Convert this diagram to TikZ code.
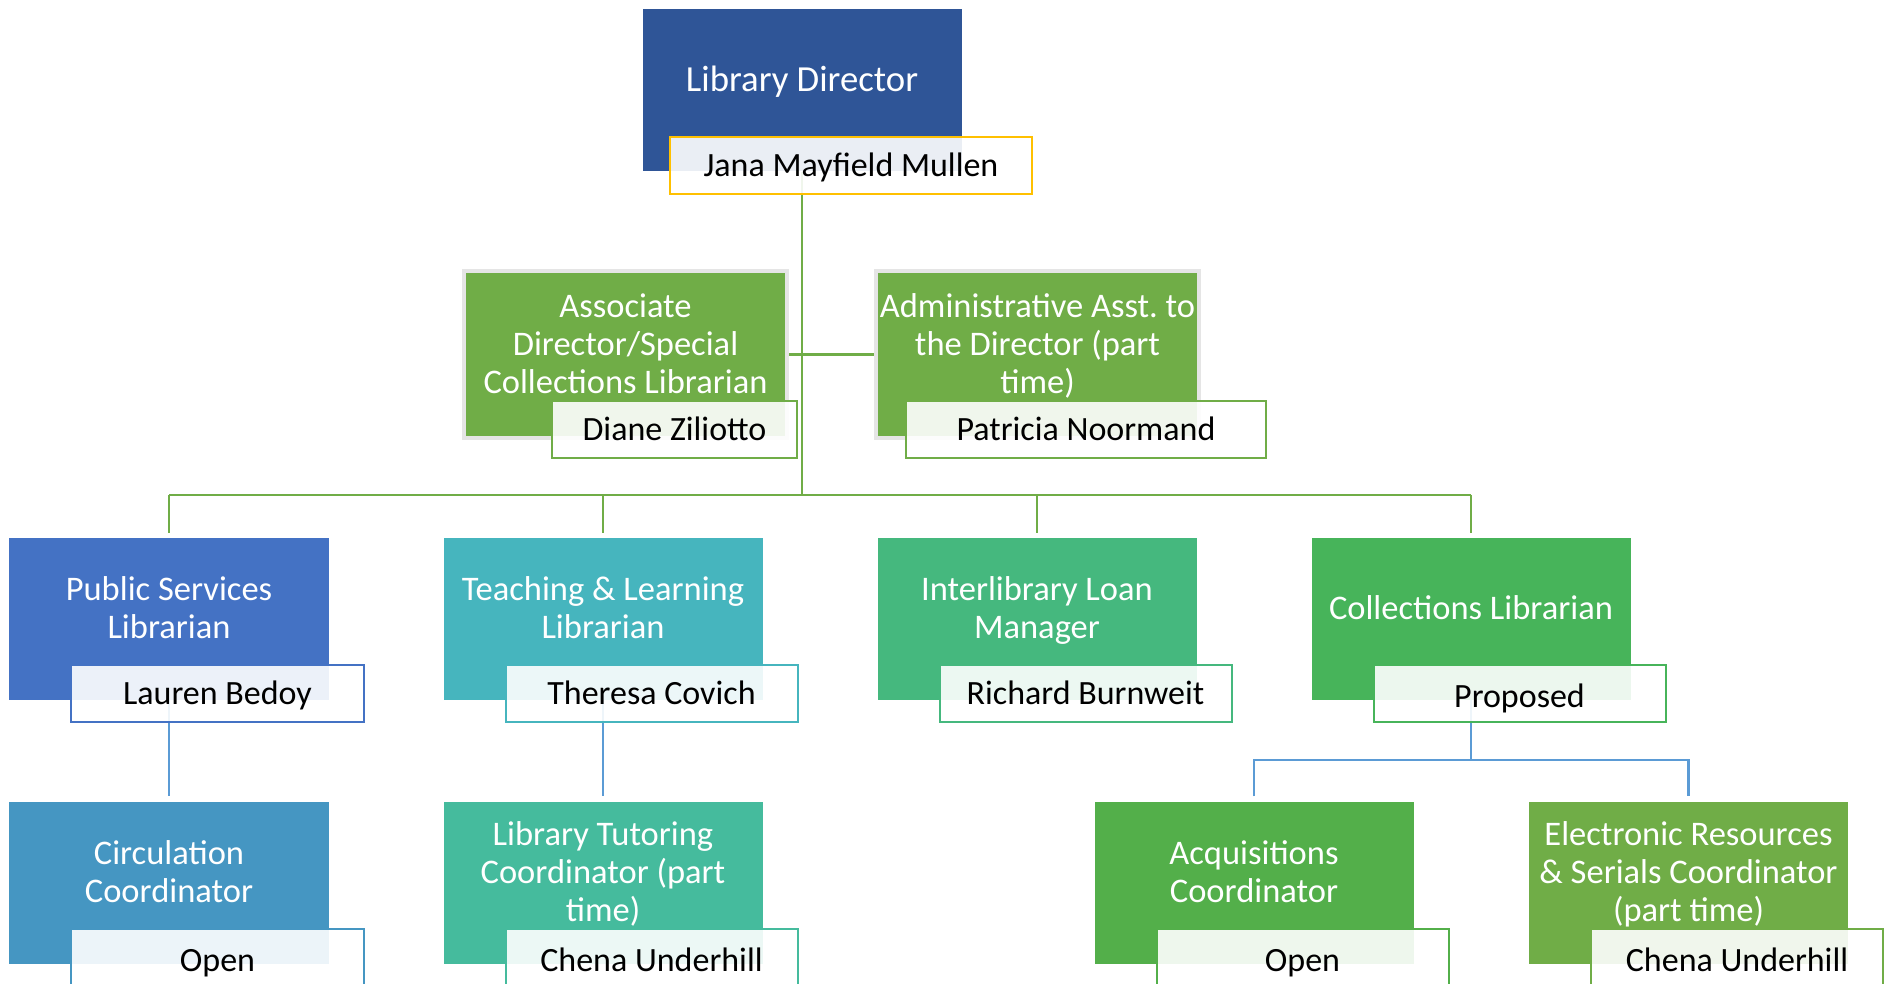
\documentclass[tikz,border=0pt]{standalone}
\usepackage{fontspec}
\setmainfont{Carlito}
\frenchspacing
\usetikzlibrary{positioning,backgrounds}
\definecolor{dirblue}{HTML}{2F5597}
\definecolor{gold}{HTML}{FFC000}
\definecolor{leafgreen}{HTML}{70AD47}
\definecolor{pubblue}{HTML}{4472C4}
\definecolor{teachteal}{HTML}{46B5BE}
\definecolor{illgreen}{HTML}{45B87E}
\definecolor{collgreen}{HTML}{47B45A}
\definecolor{circblue}{HTML}{4596C2}
\definecolor{tutorgreen}{HTML}{45BB9D}
\definecolor{acqgreen}{HTML}{53AF4A}
\definecolor{lineblue}{HTML}{5B9BD5}

\begin{document}
\begin{tikzpicture}[x=0.4pt,y=-0.4pt,
      post/.style={rectangle,minimum width=127.6pt,minimum height=64.8pt,inner sep=0pt,
        text=white,align=center,font=\fontsize{13.8}{15.2}\selectfont,text depth=9pt},
      framed/.style={draw=black!10,line width=1.6pt,minimum width=129.2pt,minimum height=66.8pt},
      holder/.style={rectangle,minimum width=116.8pt,minimum height=22.8pt,inner sep=0pt,
        fill=white,fill opacity=0.9,text opacity=1,line width=0.8pt,
        font=\fontsize{13.6}{15}\selectfont,text height=11.6pt,text depth=3pt},
      low/.style={text depth=1pt},
      gline/.style={draw=leafgreen,line width=1.1pt},
      bline/.style={draw=lineblue,line width=1.1pt}]
    \useasboundingbox (0,0) rectangle (1889,984);

    \node[post,fill=dirblue,font=\fontsize{14.7}{16}\selectfont] (dir) at (802,90.5) {Library Director};
    \node[holder,draw=gold,minimum width=144.8pt] (jana) at ([xshift=19.6pt,yshift=2.6pt]dir.south) {Jana Mayfield Mullen};

    \node[post,framed,fill=leafgreen] (assoc) at (625.5,354.5) {Associate\\Director/Special\\Collections Librarian};
    \node[holder,draw=leafgreen,minimum width=98pt] (diane) at ([xshift=19.6pt,yshift=4pt]assoc.south) {Diane Ziliotto};
    \node[post,framed,fill=leafgreen] (admin) at (1037.5,354.5) {Administrative Asst. to\\the Director (part\\time)};
    \node[holder,draw=leafgreen,minimum width=144pt] (patricia) at ([xshift=19.4pt,yshift=4pt]admin.south) {Patricia Noormand};

    \node[post,fill=pubblue] (pub) at (169,619) {Public Services\\Librarian};
    \node[holder,draw=pubblue] (lauren) at ([xshift=19.4pt,yshift=2.6pt]pub.south) {Lauren Bedoy};
    \node[post,fill=teachteal] (teach) at (603,619) {Teaching \& Learning\\Librarian};
    \node[holder,draw=teachteal] (theresa) at ([xshift=19.4pt,yshift=2.6pt]teach.south) {Theresa Covich};
    \node[post,fill=illgreen] (ill) at (1037,619) {Interlibrary Loan\\Manager};
    \node[holder,draw=illgreen] (richard) at ([xshift=19.4pt,yshift=2.6pt]ill.south) {Richard Burnweit};
    \node[post,fill=collgreen] (coll) at (1471,619) {Collections Librarian};
    \node[holder,low,draw=collgreen] (proposed) at ([xshift=19.4pt,yshift=2.6pt]coll.south) {Proposed};

    \node[post,fill=circblue] (circ) at (169,883) {Circulation\\Coordinator};
    \node[holder,low,draw=circblue] (circopen) at ([xshift=19.4pt,yshift=2.6pt]circ.south) {Open};
    \node[post,fill=tutorgreen] (tutor) at (603,883) {Library Tutoring\\Coordinator (part\\time)};
    \node[holder,low,draw=tutorgreen] (chena) at ([xshift=19.4pt,yshift=2.6pt]tutor.south) {Chena Underhill};
    \node[post,fill=acqgreen] (acq) at (1254,883) {Acquisitions\\Coordinator};
    \node[holder,low,draw=acqgreen] (acqopen) at ([xshift=19.4pt,yshift=2.6pt]acq.south) {Open};
    \node[post,fill=leafgreen] (eres) at (1688.5,883) {Electronic Resources\\\& Serials Coordinator\\(part time)};
    \node[holder,low,draw=leafgreen] (chenatwo) at ([xshift=19.4pt,yshift=2.6pt]eres.south) {Chena Underhill};

    \begin{scope}[on background layer]
      \coordinate (bus) at (802,495);
      \coordinate (split) at (1471,760);
      \draw[gline] (dir) -- (bus);
      \draw[gline] (assoc.east) -- (admin.west);
      \draw[gline] (pub |- bus) -- (coll |- bus);
      \foreach \n in {pub,teach,ill,coll}
        \draw[gline,shorten >=1.6pt] (\n |- bus) -- (\n.north);
      \draw[bline,shorten >=2pt] (pub) -- (circ.north);
      \draw[bline,shorten >=2pt] (teach) -- (tutor.north);
      \draw[bline] (coll) -- (split);
      \draw[bline,shorten <=2pt,shorten >=2pt] (acq.north) |- (split) -| (eres.north);
    \end{scope}
  \end{tikzpicture}
\end{document}
